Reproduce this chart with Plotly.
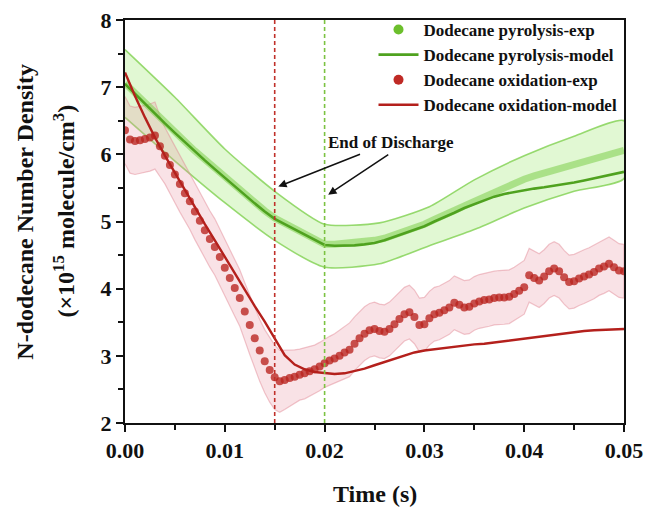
import plotly.graph_objects as go

# ---------------- data ----------------
# model time grid (s)
t_model = [i / 1000 for i in range(51)]

pyro_model = [7.05, 6.90, 6.75, 6.60, 6.46, 6.32, 6.18, 6.04, 5.91, 5.78,
              5.65, 5.52, 5.39, 5.27, 5.15, 5.04, 4.96, 4.88, 4.80, 4.72,
              4.65, 4.64, 4.64, 4.645, 4.66, 4.68, 4.72, 4.77, 4.82, 4.87,
              4.93, 5.00, 5.06, 5.13, 5.20, 5.26, 5.32, 5.37, 5.41, 5.44,
              5.47, 5.49, 5.51, 5.53, 5.55, 5.58, 5.61, 5.64, 5.67, 5.70,
              5.74]

pyro_exp = [7.06, 6.91, 6.77, 6.62, 6.47, 6.33, 6.19, 6.05, 5.92, 5.79,
            5.66, 5.53, 5.40, 5.28, 5.16, 5.05, 4.97, 4.89, 4.81, 4.73,
            4.66, 4.66, 4.67, 4.68, 4.69, 4.72, 4.75, 4.80, 4.85, 4.90,
            4.96, 5.03, 5.09, 5.16, 5.23, 5.30, 5.37, 5.44, 5.51, 5.57,
            5.63, 5.68, 5.72, 5.76, 5.80, 5.84, 5.88, 5.92, 5.96, 6.01,
            6.06]

oxid_model = [7.22, 6.87, 6.55, 6.25, 5.98, 5.72, 5.46, 5.21, 4.96, 4.72,
              4.47, 4.22, 3.98, 3.74, 3.51, 3.25, 3.01, 2.87, 2.80, 2.76,
              2.74, 2.73, 2.74, 2.77, 2.81, 2.86, 2.91, 2.96, 3.01, 3.05,
              3.08, 3.10, 3.12, 3.14, 3.16, 3.17, 3.18, 3.20, 3.22, 3.24,
              3.26, 3.28, 3.30, 3.32, 3.34, 3.36, 3.37, 3.38, 3.39, 3.40,
              3.40]

# pyrolysis uncertainty envelope
pyro_band_t = [0.0, 0.005, 0.01, 0.015, 0.02, 0.0255, 0.0305, 0.035, 0.04, 0.045, 0.05]
pyro_band_lo = [6.55, 5.90, 5.28, 4.72, 4.32, 4.37, 4.64, 4.88, 5.20, 5.45, 5.64]
pyro_band_hi = [7.56, 6.85, 6.08, 5.45, 4.96, 4.98, 5.22, 5.62, 5.98, 6.27, 6.50]

# oxidation measurement, 0.5 ms sampling
t_exp = [i / 2000 for i in range(101)]
oxid_exp = [6.36, 6.22, 6.20, 6.21, 6.23, 6.25, 6.28, 6.12, 5.98, 5.84,
            5.70, 5.56, 5.42, 5.30, 5.15, 5.01, 4.87, 4.74, 4.62, 4.47,
            4.31, 4.16, 4.01, 3.86, 3.66, 3.46, 3.26, 3.08, 2.92, 2.79,
            2.68, 2.62, 2.64, 2.67, 2.69, 2.72, 2.74, 2.77, 2.80, 2.84,
            2.89, 2.93, 2.96, 3.00, 3.05, 3.09, 3.18, 3.26, 3.33, 3.38,
            3.40, 3.37, 3.36, 3.40, 3.47, 3.55, 3.62, 3.65, 3.58, 3.46,
            3.47, 3.56, 3.62, 3.64, 3.68, 3.72, 3.79, 3.76, 3.72, 3.73,
            3.78, 3.81, 3.83, 3.84, 3.86, 3.87, 3.87, 3.88, 3.92, 3.97,
            4.02, 4.20, 4.16, 4.12, 4.18, 4.26, 4.30, 4.26, 4.17, 4.10,
            4.11, 4.15, 4.18, 4.21, 4.25, 4.30, 4.33, 4.37, 4.32, 4.27,
            4.26]
oxid_err = [0.50, 0.50, 0.50, 0.50, 0.50, 0.50, 0.50, 0.45, 0.42, 0.42,
            0.42, 0.42, 0.42, 0.42, 0.42, 0.42, 0.42, 0.42, 0.42, 0.42,
            0.42, 0.42, 0.42, 0.42, 0.43, 0.44, 0.45, 0.46, 0.47, 0.48,
            0.48, 0.46, 0.44, 0.42, 0.40, 0.38, 0.38, 0.37, 0.36, 0.36,
            0.36, 0.36, 0.37, 0.38, 0.39, 0.40, 0.40, 0.40, 0.40, 0.40,
            0.40, 0.40, 0.40, 0.40, 0.40, 0.40, 0.40, 0.40, 0.40, 0.40,
            0.40, 0.40, 0.40, 0.40, 0.40, 0.40, 0.40, 0.40, 0.40, 0.40,
            0.40, 0.40, 0.40, 0.40, 0.40, 0.40, 0.40, 0.40, 0.40, 0.40,
            0.40, 0.40, 0.40, 0.40, 0.40, 0.40, 0.40, 0.40, 0.40, 0.40,
            0.40, 0.40, 0.40, 0.40, 0.40, 0.40, 0.40, 0.40, 0.40, 0.40,
            0.40]

discharge_end = {"oxidation": 0.015, "pyrolysis": 0.02}

legend_names = ["Dodecane pyrolysis-exp", "Dodecane pyrolysis-model",
                "Dodecane oxidation-exp", "Dodecane oxidation-model"]

# ---------------- styling ----------------
FONT = "Liberation Serif"
GREEN_LINE = "#4fa21f"
GREEN_DOT = "#6cbf2c"
RED_LINE = "#b4201c"
RED_DOT = "#bf2a25"

fig = go.Figure()

# pyrolysis envelope
fig.add_trace(go.Scatter(
    x=pyro_band_t + pyro_band_t[::-1],
    y=pyro_band_hi + pyro_band_lo[::-1],
    fill="toself", fillcolor="rgba(170,235,130,0.35)",
    line=dict(color="rgba(120,205,70,0.75)", width=1.6, shape="spline", smoothing=0.6),
    mode="lines", showlegend=False, hoverinfo="skip"))

# oxidation envelope
ox_hi = [v + e for v, e in zip(oxid_exp, oxid_err)]
ox_lo = [v - e for v, e in zip(oxid_exp, oxid_err)]
fig.add_trace(go.Scatter(
    x=t_exp + t_exp[::-1], y=ox_hi + ox_lo[::-1],
    fill="toself", fillcolor="rgba(232,150,165,0.28)",
    line=dict(color="rgba(225,130,145,0.45)", width=1.2),
    mode="lines", showlegend=False, hoverinfo="skip"))

# pyrolysis measurement
fig.add_trace(go.Scatter(
    x=t_model, y=pyro_exp, mode="lines",
    line=dict(color="rgba(125,205,75,0.55)", width=7),
    showlegend=False, hoverinfo="skip"))

# models
fig.add_trace(go.Scatter(
    x=t_model, y=pyro_model, mode="lines", name=legend_names[1],
    line=dict(color=GREEN_LINE, width=2.6), legendrank=2))

# oxidation measurement
fig.add_trace(go.Scatter(
    x=t_exp, y=oxid_exp, mode="markers",
    marker=dict(color="rgba(185,35,30,0.78)", size=8, line=dict(width=0)),
    showlegend=False, hoverinfo="skip"))

fig.add_trace(go.Scatter(
    x=t_model, y=oxid_model, mode="lines", name=legend_names[3],
    line=dict(color=RED_LINE, width=2.4), legendrank=4))

# legend entries for the measurements
fig.add_trace(go.Scatter(x=[None], y=[None], mode="markers", name=legend_names[0],
                         marker=dict(color=GREEN_DOT, size=10), legendrank=1))
fig.add_trace(go.Scatter(x=[None], y=[None], mode="markers", name=legend_names[2],
                         marker=dict(color=RED_DOT, size=10), legendrank=3))

# end-of-discharge markers
fig.add_shape(type="line", x0=discharge_end["oxidation"], x1=discharge_end["oxidation"],
              y0=2, y1=8, xref="x", yref="y", layer="above",
              line=dict(color="#c0302a", width=1.6, dash="4px,3px"))
fig.add_shape(type="line", x0=discharge_end["pyrolysis"], x1=discharge_end["pyrolysis"],
              y0=2, y1=8, xref="x", yref="y", layer="above",
              line=dict(color="#7cc242", width=1.6, dash="4px,3px"))

fig.add_annotation(x=0.02663, y=6.18, xref="x", yref="y", text="End of Discharge",
                   xanchor="center", showarrow=False,
                   font=dict(family=FONT, size=17, color="#111", weight="bold"))
for (hx, hy), (tx, ty) in [((0.01536, 5.52), (0.0237, 6.01)),
                           ((0.02036, 5.40), (0.02653, 6.01))]:
    fig.add_annotation(x=hx, y=hy, ax=tx, ay=ty, xref="x", yref="y", axref="x", ayref="y",
                       text="", showarrow=True, arrowhead=2, arrowsize=1.1,
                       arrowwidth=1.5, arrowcolor="#111")

# y title (two lines)
fig.add_annotation(x=-0.2, y=0.525, xref="paper", yref="paper", textangle=-90,
                   xanchor="center", yanchor="middle",
                   text="N-dodecane Number Density", showarrow=False,
                   font=dict(family=FONT, size=24, color="#111", weight="bold"))
fig.add_annotation(x=-0.122, y=0.525, xref="paper", yref="paper", textangle=-90,
                   xanchor="center", yanchor="middle",
                   text="(×10<sup>15</sup> molecule/cm<sup>3</sup>)", showarrow=False,
                   font=dict(family=FONT, size=24, color="#111", weight="bold"))
fig.add_annotation(x=0.5, y=-0.175, xref="paper", yref="paper",
                   xanchor="center", yanchor="middle",
                   text="Time (s)", showarrow=False,
                   font=dict(family=FONT, size=24, color="#111", weight="bold"))

axis_common = dict(showline=True, linecolor="#111", linewidth=2, mirror=True,
                   ticks="outside", ticklen=7, tickwidth=2, tickcolor="#111",
                   showgrid=False, zeroline=False, automargin=False,
                   tickfont=dict(family=FONT, size=22, color="#111", weight="bold"))

fig.update_xaxes(range=[0, 0.05], dtick=0.01, tickformat=".2f",
                 minor=dict(dtick=0.005, ticks="outside", ticklen=5, tickwidth=2, tickcolor="#111"),
                 **axis_common)
fig.update_yaxes(range=[2, 8], dtick=1,
                 minor=dict(dtick=0.5, ticks="outside", ticklen=5, tickwidth=2, tickcolor="#111"),
                 **axis_common)

fig.update_layout(
    width=646, height=511,
    margin=dict(l=125, r=22, t=17, b=88),
    paper_bgcolor="white", plot_bgcolor="white",
    font=dict(family=FONT, color="#111"),
    legend=dict(x=0.498, y=1.02, xanchor="left", yanchor="top",
                bgcolor="rgba(0,0,0,0)", borderwidth=0,
                font=dict(family=FONT, size=17, color="#111", weight="bold"),
                tracegroupgap=0, itemwidth=40),
    showlegend=True,
)

fig.write_html("out.html")
